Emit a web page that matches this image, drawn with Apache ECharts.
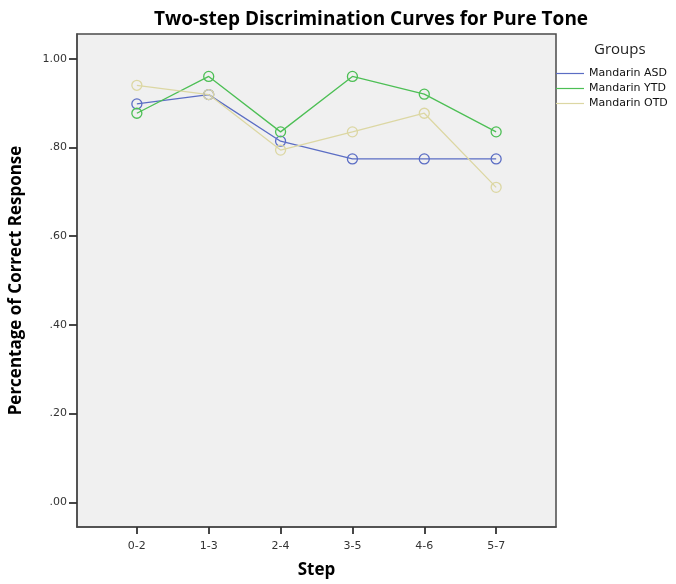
<!DOCTYPE html>
<html>
<head>
<meta charset="utf-8">
<script src="https://cdn.jsdelivr.net/npm/echarts@6/dist/echarts.min.js"></script>
<style>
  html, body { margin: 0; padding: 0; background: #ffffff; }
  #chart { width: 676px; height: 584px; }
</style>
</head>
<body>
<div id="chart"></div>
<script>
// Step pairs on the x axis
const steps = ['0-2', '1-3', '2-4', '3-5', '4-6', '5-7'];
// Proportion correct per group
const asd = [0.898, 0.919, 0.814, 0.774, 0.774, 0.774];
const ytd = [0.877, 0.960, 0.835, 0.960, 0.920, 0.835];
const otd = [0.940, 0.919, 0.794, 0.835, 0.877, 0.710];
const groupNames = ['Mandarin ASD', 'Mandarin YTD', 'Mandarin OTD'];
const yTicks = [0, 0.2, 0.4, 0.6, 0.8, 1.0];

const colors = ['#5b6dc4', '#4dbf55', '#dcd7a3'];
const stepIdx = steps.map((_, i) => i);

function makeSeries(name, vals, color) {
  return {
    name: name,
    type: 'line',
    data: vals.map((v, i) => [i, v]),
    symbol: 'circle',
    symbolSize: 10,
    showSymbol: true,
    lineStyle: { color: color, width: 1.3 },
    itemStyle: { color: 'rgba(0,0,0,0)', borderColor: color, borderWidth: 1.3 },
    emphasis: { disabled: true },
    z: 3
  };
}

const chart = echarts.init(document.getElementById('chart'), null, { renderer: 'canvas' });
chart.setOption({
  animation: false,
  backgroundColor: '#ffffff',
  title: [
    {
      text: 'Two-step Discrimination Curves for Pure Tone',
      left: 366, top: 5, textAlign: 'center',
      textStyle: { fontFamily: 'Open Sans', fontSize: 19, fontWeight: 'bold', color: '#000' }
    },
    {
      text: 'Groups',
      left: 589, top: 37,
      textStyle: { fontFamily: 'Open Sans', fontSize: 15, fontWeight: 'normal', color: '#222' }
    }
  ],
  legend: {
    orient: 'vertical',
    left: 556, top: 67,
    padding: 0,
    itemGap: 2,
    itemWidth: 28, itemHeight: 1.2,
    icon: 'rect',
    data: groupNames.map((n, i) => ({
      name: n,
      itemStyle: { color: colors[i], borderWidth: 0 }
    })),
    textStyle: { fontFamily: 'DejaVu Sans', fontSize: 11, lineHeight: 13, color: '#111' }
  },
  grid: {
    left: 76, right: 120, top: 34, bottom: 54,
    show: true,
    backgroundColor: '#f0f0f0',
    borderColor: '#4a4a4a',
    borderWidth: 1.5
  },
  xAxis: {
    type: 'value',
    min: -0.833, max: 5.833,
    name: 'Step',
    nameLocation: 'middle',
    nameGap: 35,
    nameTextStyle: { fontFamily: 'Open Sans', fontSize: 17, fontWeight: 'bold', color: '#000' },
    splitLine: { show: false },
    axisLine: { show: true, onZero: false, lineStyle: { color: '#4a4a4a', width: 1.5 } },
    axisTick: { show: true, inside: false, customValues: stepIdx, length: 7, lineStyle: { color: '#333', width: 1.8 } },
    axisLabel: {
      customValues: stepIdx,
      formatter: v => steps[Math.round(v)],
      margin: 14,
      fontFamily: 'DejaVu Sans', fontSize: 11, color: '#333'
    }
  },
  yAxis: {
    type: 'value',
    min: -0.0556, max: 1.0556,
    name: 'Percentage of Correct Response',
    nameLocation: 'middle',
    nameGap: 52,
    nameTextStyle: { fontFamily: 'Open Sans', fontSize: 17, fontWeight: 'bold', color: '#000' },
    splitLine: { show: false },
    axisLine: { show: true, onZero: false, lineStyle: { color: '#4a4a4a', width: 1.5 } },
    axisTick: { show: true, customValues: yTicks, length: 8, lineStyle: { color: '#333', width: 1.8 } },
    axisLabel: {
      customValues: yTicks,
      formatter: v => v.toFixed(2).replace(/^0/, ''),
      margin: 10,
      fontFamily: 'DejaVu Sans', fontSize: 11, color: '#333'
    }
  },
  series: [
    makeSeries(groupNames[0], asd, colors[0]),
    makeSeries(groupNames[1], ytd, colors[1]),
    makeSeries(groupNames[2], otd, colors[2])
  ]
});
</script>
</body>
</html>
